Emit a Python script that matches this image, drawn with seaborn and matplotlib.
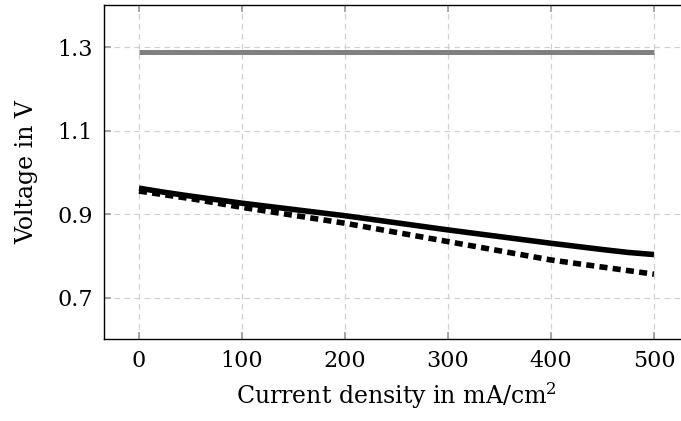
import matplotlib
matplotlib.use("Agg")
import matplotlib.pyplot as plt
import seaborn as sns
import pandas as pd

# Data
current_solid = [0, 25, 50, 100, 150, 200, 250, 300, 350, 400, 450, 475, 500]
voltage_solid = [0.962, 0.952, 0.943, 0.926, 0.911, 0.896, 0.879, 0.862, 0.846, 0.830, 0.815, 0.808, 0.803]

current_dashed = [0, 50, 100, 150, 200, 250, 300, 350, 400, 450, 500]
voltage_dashed = [0.955, 0.937, 0.916, 0.897, 0.878, 0.856, 0.834, 0.812, 0.790, 0.773, 0.756]

current_ref = [0, 500]
voltage_ref = [1.288, 1.288]

x_ticks = [0, 100, 200, 300, 400, 500]
y_ticks = [0.7, 0.9, 1.1, 1.3]

sns.set_style("white")
plt.rcParams['font.family'] = ['DejaVu Serif']
plt.rcParams['mathtext.fontset'] = 'dejavuserif'
plt.rcParams['text.color'] = 'black'
plt.rcParams['axes.labelcolor'] = 'black'

fig = plt.figure(figsize=(6.81, 4.21), dpi=100)
W, H = 681, 421
left, right, top, bottom = 104, 689, 5.3, 339.3
ax = fig.add_axes([left / W, 1 - bottom / H, (right - left) / W, (bottom - top) / H])

df_ref = pd.DataFrame({"x": current_ref, "y": voltage_ref})
df_solid = pd.DataFrame({"x": current_solid, "y": voltage_solid})
df_dashed = pd.DataFrame({"x": current_dashed, "y": voltage_dashed})

sns.lineplot(data=df_ref, x="x", y="y", ax=ax, color="#808080", lw=3.6, zorder=3)
sns.lineplot(data=df_solid, x="x", y="y", ax=ax, color="black", lw=4.0, zorder=4)
sns.lineplot(data=df_dashed, x="x", y="y", ax=ax, color="black", lw=4.0, zorder=4)
for ln in ax.lines:
    ln.set_solid_capstyle('butt')
    ln.set_dash_capstyle('butt')
    ln.set_solid_joinstyle('round')
ax.lines[-1].set_dashes([1.45, 0.95])

ax.set_xlim(-34, 534)
ax.set_ylim(0.6, 1.4)
ax.set_xticks(x_ticks)
ax.set_yticks(y_ticks)
ax.set_xticklabels([str(v) for v in x_ticks])
ax.set_yticklabels([f"{v:.1f}" for v in y_ticks])

ax.grid(True, color="#d0d0d0", linestyle=(0, (4.5, 3.5)), linewidth=0.9)
ax.set_axisbelow(True)
for s in ax.spines.values():
    s.set_color("black")
    s.set_linewidth(1.0)

ax.tick_params(axis='both', direction='in', length=5, width=1.2, color='#999999',
               labelsize=16, labelcolor='black', top=True, right=True, bottom=True, left=True)
ax.tick_params(axis='x', pad=8)
ax.tick_params(axis='y', pad=8)

ax.set_xlabel("Current density in mA/cm$^2$", fontsize=17, labelpad=6)
ax.set_ylabel("Voltage in V", fontsize=17, labelpad=14)

fig.savefig("out.png", dpi=100)
